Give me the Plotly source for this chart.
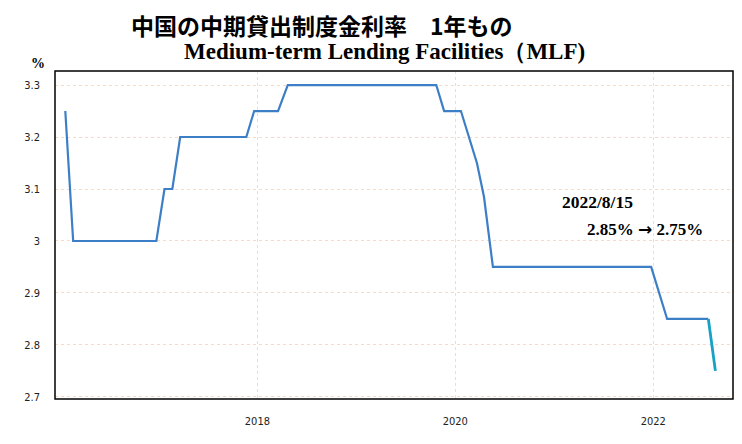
import plotly.graph_objects as go

# monthly points (1-year MLF rate, %)
dates = ['2016-01-23', '2016-02-21', '2016-12-24', '2017-01-23', '2017-02-21',
         '2017-03-22', '2017-11-21', '2017-12-20', '2018-03-18', '2018-04-23',
         '2019-10-23', '2019-11-21', '2020-01-22', '2020-03-21', '2020-04-16',
         '2020-05-19', '2021-12-24', '2022-02-21', '2022-07-23']
rates = [3.25, 3.00, 3.00, 3.10, 3.10, 3.20, 3.20, 3.25, 3.25, 3.30,
         3.30, 3.25, 3.25, 3.15, 3.085, 2.95, 2.95, 2.85, 2.85]

# latest cut, highlighted
last_dates = ['2022-07-23', '2022-08-18']
last_rates = [2.85, 2.75]

y_ticks = [2.7, 2.8, 2.9, 3.0, 3.1, 3.2, 3.3]
y_labels = ['2.7', '2.8', '2.9', '3', '3.1', '3.2', '3.3']

title_jp = '中国の中期貸出制度金利率　1年もの'
title_en = 'Medium-term Lending Facilities（MLF)'
note_date = '2022/8/15'
note_from, note_to = '2.85%', '2.75%'

serif = 'Liberation Serif, Times New Roman, serif'
tick_font = dict(family='DejaVu Sans Condensed, sans-serif', size=11, color='#222')
grid_col = '#f8d9c8'

fig = go.Figure()
fig.add_trace(go.Scatter(x=dates, y=rates, mode='lines',
                         line=dict(color='#3c7fc6', width=2.2),
                         showlegend=False))
fig.add_trace(go.Scatter(x=last_dates, y=last_rates, mode='lines',
                         line=dict(color='#17a2c4', width=2.8),
                         showlegend=False))

fig.update_xaxes(
    range=['2015-12-16', '2022-10-22'],
    tickvals=['2018-01-01', '2020-01-01', '2022-01-01'],
    ticktext=['2018', '2020', '2022'],
    showgrid=True, gridcolor=grid_col, griddash='dot', gridwidth=1,
    showline=False, ticks='', ticklabelstandoff=14,
    tickfont=tick_font, zeroline=False,
)
fig.update_yaxes(
    range=[2.696, 3.327],
    tickvals=y_ticks, ticktext=y_labels,
    showgrid=True, gridcolor=grid_col, griddash='dot', gridwidth=1,
    showline=False, ticks='', ticklabelstandoff=14,
    tickfont=tick_font, zeroline=False,
)

# black frame round the plot area
fig.add_shape(type='rect', xref='paper', yref='paper', x0=0, y0=0, x1=1, y1=1,
              line=dict(color='black', width=1.5), layer='above')

fig.add_annotation(text='<b>' + title_jp + '</b>', xref='paper', yref='paper',
                   x=0.109, y=1.14, xanchor='left', yanchor='middle',
                   showarrow=False,
                   font=dict(family='Noto Sans CJK JP', size=23, color='black'))
fig.add_annotation(text='<b>' + title_en + '</b>', xref='paper', yref='paper',
                   x=0.187, y=1.058, xanchor='left', yanchor='middle',
                   showarrow=False,
                   font=dict(family=serif, size=23, color='black'))
fig.add_annotation(text='<b>%</b>', xref='paper', yref='paper',
                   x=-0.025, y=1.024, xanchor='center', yanchor='middle',
                   showarrow=False,
                   font=dict(family=serif, size=14, color='black'))
fig.add_annotation(text='<b>' + note_date + '</b>', xref='paper', yref='paper',
                   x=0.745, y=0.60, xanchor='left', yanchor='middle',
                   showarrow=False,
                   font=dict(family=serif, size=17.5, color='black'))
fig.add_annotation(text='<b>' + note_from + ' <span style="font-family:DejaVu Sans">→</span> '
                   + note_to + '</b>', xref='paper', yref='paper',
                   x=0.782, y=0.518, xanchor='left', yanchor='middle',
                   showarrow=False,
                   font=dict(family=serif, size=17, color='black'))

# the page body keeps an 8px margin, so the figure is sized to fit inside it
fig.update_layout(
    width=726, height=428,
    margin=dict(l=47, r=1, t=63, b=37),
    plot_bgcolor='white', paper_bgcolor='white',
    showlegend=False,
)

fig.write_html('out.html')
